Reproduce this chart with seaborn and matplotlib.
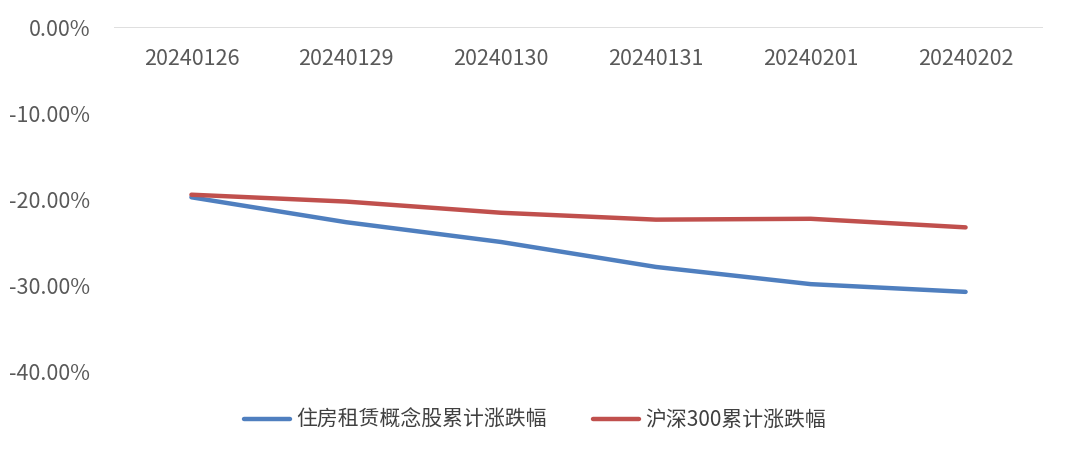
import numpy as np
import pandas as pd
import matplotlib
matplotlib.use("Agg")
import matplotlib.pyplot as plt
from matplotlib.ticker import FuncFormatter
import seaborn as sns

# Data (cumulative change, %)
dates = ['20240126', '20240129', '20240130', '20240131', '20240201', '20240202']
housing_rent = [-19.8, -22.7, -25.0, -27.9, -29.9, -30.8]
hs300 = [-19.5, -20.3, -21.6, -22.4, -22.3, -23.3]
series_names = ['住房租赁概念股累计涨跌幅', '沪深300累计涨跌幅']
colors = ['#4F7FBF', '#C0504D']

df = pd.DataFrame({
    'date': dates * 2,
    'value': housing_rent + hs300,
    'series': [series_names[0]] * len(dates) + [series_names[1]] * len(dates),
})

sns.set_theme(style="white")
plt.rcParams['font.family'] = ['Noto Sans CJK SC', 'DejaVu Sans']
plt.rcParams['font.weight'] = 'medium'

fig = plt.figure(figsize=(10.66, 4.53), dpi=100)
ax = fig.add_axes([114 / 1066, 1 - 414 / 453, (1043 - 114) / 1066, (414 - 27) / 453])

sns.lineplot(data=df, x='date', y='value', hue='series', palette=colors,
             linewidth=3.2, ax=ax, sort=False, legend=True)
for line in ax.lines:
    line.set_solid_capstyle('round')

ax.set_xlim(-0.5, len(dates) - 0.5)
ax.set_ylim(-45, 0)
ax.set_yticks([0, -10, -20, -30, -40])
ax.yaxis.set_major_formatter(FuncFormatter(lambda v, p: f'{v:.2f}%'))
ax.set_xlabel('')
ax.set_ylabel('')

# zero line only
ax.axhline(0, color='#D9D9D9', linewidth=1.2, zorder=0)
for s in ax.spines.values():
    s.set_visible(False)

# category labels sit just under the zero line
ax.tick_params(axis='x', bottom=False, labelbottom=False, top=False, labeltop=True,
               length=0, pad=-31, labelsize=15.5, labelcolor='#595959')
ax.tick_params(axis='y', length=0, pad=17, labelsize=15.5, labelcolor='#595959')

handles, labels = ax.get_legend_handles_labels()
ax.get_legend().remove()
fig.legend(handles, labels, loc='center', bbox_to_anchor=(535 / 1066, 1 - 420 / 453),
           ncol=2, frameon=False, fontsize=15, handlelength=2.2, handletextpad=0.3,
           columnspacing=2.2, labelcolor='#404040')

fig.savefig('out.png', dpi=100)
